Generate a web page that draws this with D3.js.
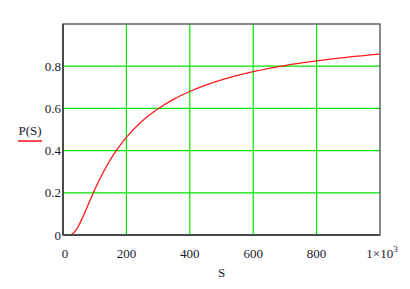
<!DOCTYPE html>
<html>
<head>
<meta charset="utf-8">
<script src="https://cdn.jsdelivr.net/npm/d3@7"></script>
<style>
  body { margin: 0; background: #fff; }
</style>
</head>
<body>
<div id="chart"></div>
<script>
// values
const sValues = [0, 10, 20, 30, 40, 50, 60, 70, 80, 90, 100, 120, 140, 160, 180, 200,
                 250, 300, 350, 400, 450, 500, 600, 700, 800, 900, 1000];
const pValues = [0, 0, 0.0005, 0.006, 0.021, 0.046, 0.077, 0.11, 0.146, 0.18, 0.214,
                 0.277, 0.333, 0.382, 0.425, 0.463, 0.54, 0.598, 0.644, 0.68, 0.71,
                 0.735, 0.774, 0.803, 0.825, 0.843, 0.857];
const xTicks = [0, 200, 400, 600, 800, 1000];
const yTicks = [0, 0.2, 0.4, 0.6, 0.8];

const margin = { top: 24, right: 30, bottom: 54, left: 63 };
const width = 410 - margin.left - margin.right;
const height = 289 - margin.top - margin.bottom;

const x = d3.scaleLinear().domain([0, 1000]).range([0, width]);
const y = d3.scaleLinear().domain([0, 1]).range([height, 0]);

const svg = d3.select("#chart")
    .append("svg")
    .attr("width", 410)
    .attr("height", 289)
    .attr("font-family", "'Liberation Serif', 'DejaVu Serif', serif")
    .append("g")
    .attr("transform", `translate(${margin.left},${margin.top})`);

// grid
svg.selectAll(".vgrid")
    .data(xTicks.slice(1, -1))
    .join("line")
    .attr("x1", d => x(d)).attr("x2", d => x(d))
    .attr("y1", 0).attr("y2", height)
    .attr("stroke", "#00e600")
    .attr("stroke-width", 1.2);

svg.selectAll(".hgrid")
    .data(yTicks.slice(1))
    .join("line")
    .attr("x1", 0).attr("x2", width)
    .attr("y1", d => y(d)).attr("y2", d => y(d))
    .attr("stroke", "#00e600")
    .attr("stroke-width", 1.2);

// curve
const line = d3.line()
    .x((d, i) => x(sValues[i]))
    .y(d => y(d))
    .curve(d3.curveMonotoneX);

svg.append("path")
    .datum(pValues)
    .attr("fill", "none")
    .attr("stroke", "#ff1a1a")
    .attr("stroke-width", 1.3)
    .attr("d", line);

// frame
svg.append("rect")
    .attr("width", width)
    .attr("height", height)
    .attr("fill", "none")
    .attr("stroke", "#4a4a4a")
    .attr("stroke-width", 1.3);
svg.append("line")
    .attr("x1", 0).attr("x2", 0).attr("y1", 0).attr("y2", height)
    .attr("stroke", "#4a4a4a").attr("stroke-width", 2);
svg.append("line")
    .attr("x1", 0).attr("x2", width).attr("y1", height).attr("y2", height)
    .attr("stroke", "#4a4a4a").attr("stroke-width", 2);

const txtColor = "#1a1a2a";

// y tick labels
svg.selectAll(".ylab")
    .data(yTicks)
    .join("text")
    .attr("x", -2)
    .attr("y", d => y(d))
    .attr("dy", "0.35em")
    .attr("text-anchor", "end")
    .attr("font-size", 13)
    .attr("fill", txtColor)
    .text(d => d === 0 ? "0" : d.toFixed(1));

// x tick labels
const xl = svg.selectAll(".xlab")
    .data(xTicks)
    .join("text")
    .attr("x", d => x(d) + (d === 0 ? 2 : 0) + (d === 1000 ? 2 : 0))
    .attr("y", height + 23)
    .attr("text-anchor", "middle")
    .attr("font-size", 13)
    .attr("fill", txtColor);
xl.filter(d => d !== 1000).text(d => d);
xl.filter(d => d === 1000).each(function() {
  const t = d3.select(this);
  t.append("tspan").text("1×10");
  t.append("tspan").attr("dy", -6).attr("font-size", 9).text("3");
});

// axis titles
svg.append("text")
    .attr("x", width / 2)
    .attr("y", height + 42)
    .attr("text-anchor", "middle")
    .attr("font-size", 13)
    .attr("fill", txtColor)
    .text("S");

svg.append("text")
    .attr("x", 30 - margin.left)
    .attr("y", 111)
    .attr("text-anchor", "middle")
    .attr("font-size", 13)
    .attr("fill", txtColor)
    .text("P(S)");

svg.append("line")
    .attr("x1", 18 - margin.left).attr("x2", 42 - margin.left)
    .attr("y1", 117).attr("y2", 117)
    .attr("stroke", "#ff4d4d")
    .attr("stroke-width", 2);
</script>
</body>
</html>
